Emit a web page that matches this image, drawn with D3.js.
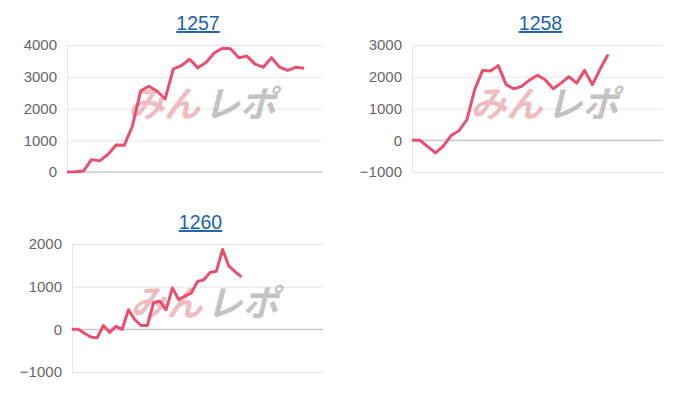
<!DOCTYPE html><html><head><meta charset="utf-8"><script src="https://cdn.jsdelivr.net/npm/d3@7"></script>
<style>body{margin:0;background:#fff;font-family:"Liberation Sans",Arial,sans-serif}</style></head><body><svg id="c" width="700" height="400"></svg>
<script>
const titles=["1257","1258","1260"];
const s1257=[0,10,30,390,350,550,850,840,1450,2550,2700,2550,2300,3250,3350,3550,3280,3450,3750,3900,3880,3600,3650,3400,3300,3600,3300,3200,3300,3270];
const s1258=[0,0,-200,-400,-180,150,300,650,1600,2200,2180,2350,1750,1620,1700,1900,2050,1900,1620,1800,2000,1800,2200,1750,2250,2700];
const s1260=[0,0,-90,-180,-200,90,-70,70,0,460,230,90,90,620,660,460,970,700,780,850,1120,1160,1330,1360,1870,1480,1350,1230];
const ticks1257=[0,1000,2000,3000,4000], ticks1258=[-1000,0,1000,2000,3000], ticks1260=[-1000,0,1000,2000];
const cfg=[
 {t:titles[0],d:s1257,ticks:ticks1257,x0:67,x1:323,y0:172,y1:45,ty:30,dom:31.3},
 {t:titles[1],d:s1258,ticks:ticks1258,x0:412,x1:663,y0:172,y1:45,ty:30,dom:32},
 {t:titles[2],d:s1260,ticks:ticks1260,x0:72,x1:323,y0:372,y1:244,ty:229,dom:40}];
const svg=d3.select("#c");
cfg.forEach(c=>{
 const ext=d3.extent(c.ticks);
 const x=d3.scaleLinear().domain([0,c.dom]).range([c.x0,c.x1]);
 const y=d3.scaleLinear().domain(ext).range([c.y0,c.y1]);
 const g=svg.append("g");
 g.append("text").attr("x",(c.x0+c.x1)/2+3).attr("y",c.ty).attr("text-anchor","middle").attr("fill","#1a62ad").attr("font-size",19.5).attr("text-decoration","underline").text(c.t);
 const ax=g.append("g").attr("transform",`translate(${c.x0},0)`).call(d3.axisLeft(y).tickValues(c.ticks).tickSize(-(c.x1-c.x0)).tickPadding(10).tickFormat(d3.format("d")));
 ax.select(".domain").attr("stroke","#e6e6e6");
 ax.selectAll(".tick line").attr("stroke","#e6e6e6");
 ax.selectAll(".tick text").attr("fill","#666").attr("font-size",15).attr("font-family","Liberation Sans,Arial");
 g.append("line").attr("x1",c.x0).attr("x2",c.x1).attr("y1",y(0)).attr("y2",y(0)).attr("stroke","#bbb");
 const cx=(c.x0+c.x1)/2+15, cy=(c.y0+c.y1)/2+8;
 g.append("text").attr("x",cx-10).attr("y",cy).attr("text-anchor","end").attr("font-size",36).attr("font-weight","bold").attr("font-style","italic").attr("fill","#e8a0a8").attr("opacity",0.7).attr("font-family","Noto Sans CJK JP").text("みん");
 g.append("text").attr("x",cx-6).attr("y",cy).attr("text-anchor","start").attr("font-size",36).attr("font-weight","bold").attr("font-style","italic").attr("fill","#aaa").attr("opacity",0.7).attr("font-family","Noto Sans CJK JP").text("レポ");
 g.append("path").datum(c.d).attr("fill","none").attr("stroke","#e8506e").attr("stroke-width",3).attr("stroke-linejoin","round")
  .attr("d",d3.line().x((d,i)=>x(i)).y(d=>y(d)));
});
</script></body></html>
